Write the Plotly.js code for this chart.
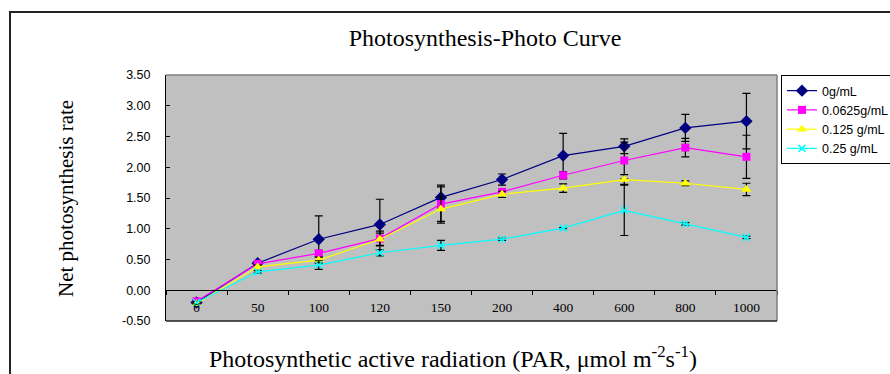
<!DOCTYPE html>
<html>
<head>
<meta charset="utf-8">
<script src="https://cdn.plot.ly/plotly-3.0.1.min.js"></script>
<style>
html,body{margin:0;padding:0;background:#fff;}
#chart{width:890px;height:374px;}
</style>
</head>
<body>
<div id="chart"></div>
<script>
var categories = ['0','50','100','120','150','200','400','600','800','1000'];
var seriesNames = ['0g/mL','0.0625g/mL','0.125 g/mL','0.25 g/mL'];
var s0 = [-0.20,0.44,0.83,1.07,1.51,1.80,2.19,2.34,2.64,2.75];
var s0err = [0.03,0.03,0.38,0.41,0.17,0.09,0.36,0.12,0.22,0.45];
var s1 = [-0.18,0.43,0.60,0.84,1.40,1.60,1.87,2.11,2.32,2.17];
var s1err = [0.02,0.03,0.05,0.12,0.31,0.05,0.06,0.30,0.15,0.35];
var s2 = [-0.22,0.38,0.49,0.83,1.32,1.56,1.66,1.80,1.74,1.64];
var s2err = [0.02,0.03,0.05,0.10,0.20,0.05,0.07,0.08,0.04,0.10];
var s3 = [-0.20,0.30,0.41,0.61,0.73,0.83,1.01,1.30,1.08,0.86];
var s3err = [0.02,0.02,0.07,0.05,0.08,0.02,0.01,0.41,0.02,0.02];
var yTickVals = [-0.5,0,0.5,1,1.5,2,2.5,3,3.5];
var yTickText = ['-0.50','0.00','0.50','1.00','1.50','2.00','2.50','3.00','3.50'];

var colors = ['#000080','#ff00ff','#ffff00','#00ffff'];
var symbols = ['diamond','square','triangle-up','x-thin'];
var sizes = [9.5,8,9,7];
var vals = [s0,s1,s2,s3];
var errs = [s0err,s1err,s2err,s3err];

var traces = vals.map(function(v,i){
  return {
    x: categories, y: v, name: seriesNames[i], type:'scatter', mode:'lines+markers',
    line:{color:colors[i], width:1.2},
    marker:{symbol:symbols[i], size:sizes[i], color:colors[i], line:{color:colors[i], width: i===3?1.5:0}},
    error_y:{type:'data', array:errs[i], visible:true, color:'#000', thickness:1.2, width:4}
  };
});

var L=166, R=777, T=75, B=321, W=R-L, H=B-T;
function px(x){return (x-L)/W;}
function py(y){return (B-y)/H;}

var layout = {
  width:890, height:374,
  margin:{l:L, r:890-R, t:T, b:374-B},
  paper_bgcolor:'#fff', plot_bgcolor:'#c0c0c0',
  showlegend:true,
  title:{text:'Photosynthesis-Photo Curve', x:485/890, y:1-38/374, xanchor:'center', yanchor:'middle',
    font:{family:'Liberation Serif', size:24, color:'#000'}},
  xaxis:{type:'category', range:[-0.5,9.5], anchor:'free', position:0.125,
    showline:true, linecolor:'#000', linewidth:1, ticks:'outside', tickson:'boundaries', ticklen:4, tickcolor:'#000',
    showgrid:false, zeroline:false, ticklabelstandoff:5, tickfont:{family:'Liberation Serif', size:13.5, color:'#000'}},
  yaxis:{range:[-0.5,3.5], tickvals:yTickVals, ticktext:yTickText, showline:true, linecolor:'#000', linewidth:1,
    ticks:'inside', ticklen:4, tickcolor:'#000', showgrid:false, zeroline:false, ticklabelstandoff:12,
    tickfont:{family:'Liberation Sans', size:12.5, color:'#000'}},
  legend:{xref:'container', yref:'container', x:781/890, y:1-75/374, xanchor:'left', yanchor:'top',
    bgcolor:'#fff', bordercolor:'#000', borderwidth:1,
    font:{family:'Liberation Sans', size:12.5, color:'#000'}, itemwidth:30, tracegroupgap:0},
  shapes:[
    {type:'line', xref:'paper', yref:'paper', x0:0, x1:1, y0:1, y1:1, line:{color:'#808080', width:1.5}},
    {type:'line', xref:'paper', yref:'paper', x0:1, x1:1, y0:0, y1:1, line:{color:'#808080', width:1.5}},
    {type:'line', xref:'paper', yref:'paper', x0:0, x1:1, y0:0, y1:0, line:{color:'#222', width:1.5}},
    {type:'rect', xref:'paper', yref:'paper', x0:px(10), x1:2, y0:-1, y1:py(12), line:{color:'#222', width:2}}
  ],
  annotations:[
    {text:'Net photosynthesis rate', xref:'paper', yref:'paper', x:px(66), y:0.5, textangle:-90, showarrow:false,
      xanchor:'center', yanchor:'middle', font:{family:'Liberation Serif', size:21, color:'#000'}},
    {text:'Photosynthetic active radiation (PAR, μmol m<sup>-2</sup>s<sup>-1</sup>)', xref:'paper', yref:'paper',
      x:px(453), y:py(357), showarrow:false, xanchor:'center', yanchor:'middle',
      font:{family:'Liberation Serif', size:24, color:'#000'}}
  ]
};
Plotly.newPlot('chart', traces, layout, {staticPlot:true, displayModeBar:false});
</script>
</body>
</html>
